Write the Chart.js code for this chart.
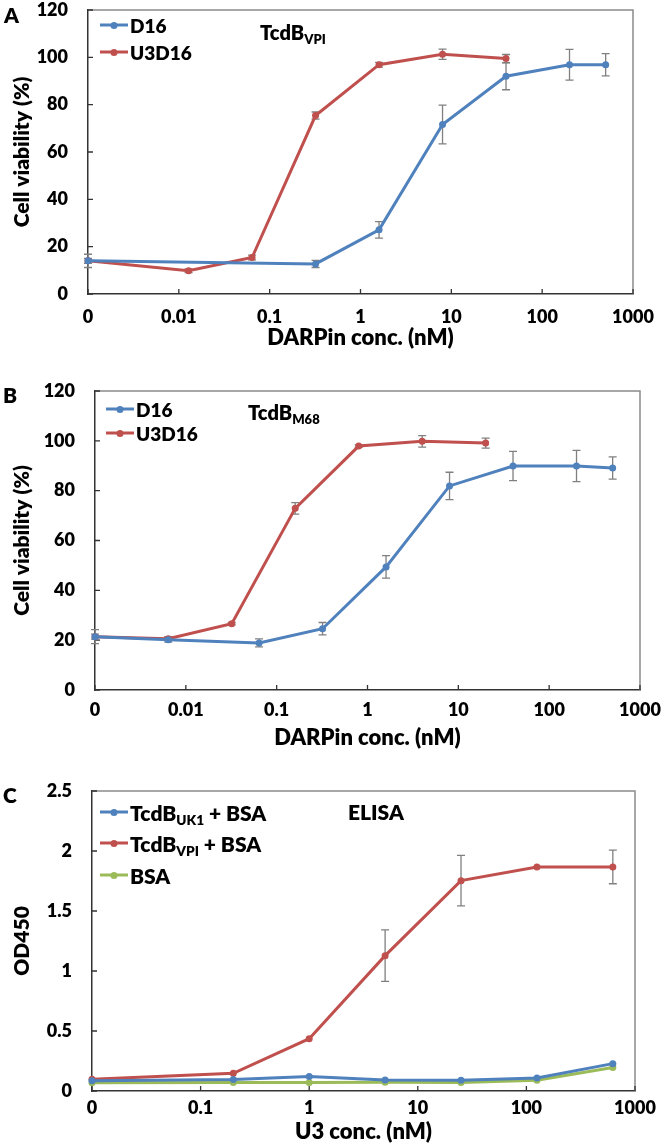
<!DOCTYPE html>
<html><head><meta charset="utf-8">
<script src="https://cdn.jsdelivr.net/npm/chart.js@4.4.0/dist/chart.umd.min.js"></script>
<style>
html,body{margin:0;padding:0;background:#fff;width:666px;height:1144px;overflow:hidden;font-family:Lato,sans-serif;font-weight:800;color:#000}
canvas{position:absolute;left:0}
.lbl{position:absolute;line-height:1;white-space:nowrap}
.leg{position:absolute;display:flex;align-items:center;white-space:nowrap;line-height:1;transform:translateY(-50%)}
.sw{position:relative;width:28px;height:3px;margin-right:2px;flex:none}
.sw i{position:absolute;left:50%;top:50%;width:7px;height:7px;border-radius:50%;transform:translate(-50%,-50%)}
.tx{display:inline-block;line-height:1}
sub{font-size:0.65em;vertical-align:-0.3em;line-height:0}
</style></head><body>
<canvas id="cA" width="666" height="360" style="top:0px"></canvas>
<canvas id="cB" width="666" height="385" style="top:375px"></canvas>
<canvas id="cC" width="666" height="384" style="top:760px"></canvas>

<div class="lbl" style="left:4px;top:4px;font-size:21px">A</div>
<div class="lbl" style="left:3px;top:384px;font-size:21px">B</div>
<div class="lbl" style="left:3px;top:784px;font-size:21px">C</div>

<div class="leg" style="left:100px;top:25px;font-size:19px"><span class="sw" style="background:#4F81BD"><i style="background:#4F81BD"></i></span><span class="tx">D16</span></div>
<div class="leg" style="left:100px;top:52px;font-size:19px"><span class="sw" style="background:#C0504D"><i style="background:#C0504D"></i></span><span class="tx">U3D16</span></div>
<div class="lbl" style="left:260px;top:22px;font-size:20px">TcdB<sub>VPI</sub></div>

<div class="leg" style="left:106px;top:409px;font-size:19px"><span class="sw" style="background:#4F81BD"><i style="background:#4F81BD"></i></span><span class="tx">D16</span></div>
<div class="leg" style="left:106px;top:433px;font-size:19px"><span class="sw" style="background:#C0504D"><i style="background:#C0504D"></i></span><span class="tx">U3D16</span></div>
<div class="lbl" style="left:248px;top:402px;font-size:20px">TcdB<sub>M68</sub></div>

<div class="leg" style="left:100px;top:812px;font-size:21px"><span class="sw" style="background:#4F81BD"><i style="background:#4F81BD"></i></span><span class="tx">TcdB<sub>UK1</sub> + BSA</span></div>
<div class="leg" style="left:100px;top:843px;font-size:21px"><span class="sw" style="background:#C0504D"><i style="background:#C0504D"></i></span><span class="tx">TcdB<sub>VPI</sub> + BSA</span></div>
<div class="leg" style="left:100px;top:875px;font-size:21px"><span class="sw" style="background:#9BBB59"><i style="background:#9BBB59"></i></span><span class="tx">BSA</span></div>
<div class="lbl" style="left:348px;top:801px;font-size:21px">ELISA</div>

<script>
// ---------- DATA ----------
// Panel A (TcdB VPI) — "0" concentration plotted at 0.001
const aD16Conc   = [0.001, 0.32, 1.6, 8, 40, 200, 500];
const aD16Via    = [14.0, 12.7, 27.1, 71.6, 92.0, 96.9, 96.9];
const aD16Err    = [2.8, 1.5, 3.5, 8.2, 5.7, 6.5, 4.7];
const aU3D16Conc = [0.001, 0.0128, 0.064, 0.32, 1.6, 8, 40];
const aU3D16Via  = [14.0, 9.8, 15.4, 75.4, 96.9, 101.3, 99.5];
const aU3D16Err  = [1.0, 0.8, 1.0, 1.5, 1.0, 2.2, 1.7];

// Panel B (TcdB M68)
const bD16Conc   = [0.001, 0.0064, 0.064, 0.32, 1.6, 8, 40, 200, 500];
const bD16Via    = [21.4, 20.2, 18.9, 24.6, 49.4, 81.9, 89.9, 89.9, 89.1];
const bD16Err    = [2.8, 1.0, 1.6, 2.5, 4.5, 5.5, 5.9, 6.3, 4.5];
const bU3D16Conc = [0.001, 0.0064, 0.032, 0.16, 0.8, 4, 20];
const bU3D16Via  = [21.4, 20.6, 26.6, 72.9, 97.9, 99.8, 99.1];
const bU3D16Err  = [1.0, 0.8, 0.5, 2.3, 0.5, 2.3, 2.0];

// Panel C (ELISA) — "0" concentration plotted at 0.01
const cConc      = [0.01, 0.2, 1, 5, 25, 125, 625];
const cUK1       = [0.085, 0.095, 0.12, 0.092, 0.089, 0.108, 0.228];
const cVPI       = [0.097, 0.147, 0.436, 1.128, 1.753, 1.867, 1.867];
const cVPIErr    = [0, 0, 0, 0.215, 0.21, 0, 0.14];
const cBSA       = [0.068, 0.07, 0.07, 0.072, 0.07, 0.089, 0.195];

// Tick values / labels
const abXTicks  = [0.001, 0.01, 0.1, 1, 10, 100, 1000];
const abXLabels = ["0", "0.01", "0.1", "1", "10", "100", "1000"];
const abYTicks  = [0, 20, 40, 60, 80, 100, 120];
const abYLabels = ["0", "20", "40", "60", "80", "100", "120"];
const cXTicks   = [0.01, 0.1, 1, 10, 100, 1000];
const cXLabels  = ["0", "0.1", "1", "10", "100", "1000"];
const cYTicks   = [0, 0.5, 1, 1.5, 2, 2.5];
const cYLabels  = ["0", "0.5", "1", "1.5", "2", "2.5"];

const BLUE = '#4F81BD', RED = '#C0504D', GREEN = '#9BBB59';

function pts(xs, ys) { return xs.map((x, i) => ({x: x, y: ys[i]})); }

const frameTicks = {
  id: 'frameTicks',
  beforeDatasetsDraw(chart) {
    const ctx = chart.ctx, a = chart.chartArea, x = chart.scales.x, y = chart.scales.y;
    ctx.save();
    ctx.strokeStyle = '#8a8a8a'; ctx.lineWidth = 1.5;
    ctx.beginPath(); ctx.moveTo(a.left, a.top); ctx.lineTo(a.right, a.top); ctx.lineTo(a.right, a.bottom); ctx.stroke();
    ctx.strokeStyle = '#333'; ctx.lineWidth = 1.3;
    ctx.beginPath();
    x.ticks.forEach(t => { const px = x.getPixelForValue(t.value); ctx.moveTo(px, a.bottom); ctx.lineTo(px, a.bottom - 5); });
    y.ticks.forEach(t => { const py = y.getPixelForValue(t.value); ctx.moveTo(a.left, py); ctx.lineTo(a.left + 5, py); });
    ctx.stroke();
    ctx.strokeStyle = '#808080'; ctx.lineWidth = 1.3;
    chart.data.datasets.forEach(ds => {
      if (!ds.err) return;
      ds.data.forEach((p, i) => {
        const e = ds.err[i]; if (!e) return;
        const px = x.getPixelForValue(p.x);
        const y1 = y.getPixelForValue(p.y + e), y2 = y.getPixelForValue(p.y - e);
        ctx.beginPath();
        ctx.moveTo(px, y1); ctx.lineTo(px, y2);
        ctx.moveTo(px - 4, y1); ctx.lineTo(px + 4, y1);
        ctx.moveTo(px - 4, y2); ctx.lineTo(px + 4, y2);
        ctx.stroke();
      });
    });
    ctx.restore();
  }
};

function makeChart(id, o) {
  const font = (s, lh) => ({family: 'Lato', weight: '800', size: s, lineHeight: lh || 1.2});
  return new Chart(document.getElementById(id), {
    type: 'line',
    data: {
      datasets: o.datasets.map(d => ({
        label: d.label, data: pts(d.x, d.y), err: d.err,
        borderColor: d.color, backgroundColor: d.color, borderWidth: 3,
        pointRadius: 3.5, pointBorderWidth: 0, pointHoverRadius: 3.5,
        tension: 0, clip: false
      }))
    },
    options: {
      responsive: false, animation: false, events: [],
      layout: {padding: {left: 0, top: o.top, right: o.right, bottom: 0}},
      plugins: {legend: {display: false}, tooltip: {enabled: false}},
      scales: {
        x: {
          type: 'logarithmic', min: o.xt[0], max: 1000,
          afterFit(s) { s.height = o.xh; s.paddingLeft = 0; s.paddingRight = 0; },
          afterBuildTicks(s) { s.ticks = o.xt.map(v => ({value: v})); },
          grid: {display: false, drawTicks: false},
          border: {display: true, color: '#333', width: 1.5},
          ticks: {autoSkip: false, maxRotation: 0, padding: o.xpad, color: '#000', font: font(18),
                  callback: (v, i) => o.xl[i]},
          title: {display: true, text: o.xtitle, color: '#000', font: font(22, 1), padding: {top: 0, bottom: o.xtp}}
        },
        y: {
          type: 'linear', min: 0, max: o.yt[o.yt.length - 1],
          afterFit(s) { s.width = o.left; s.paddingTop = 0; s.paddingBottom = 0; },
          afterBuildTicks(s) { s.ticks = o.yt.map(v => ({value: v})); },
          grid: {display: false, drawTicks: false},
          border: {display: true, color: '#333', width: 1.5},
          ticks: {padding: 20, color: '#000', font: font(18), callback: (v, i) => o.yl[i]},
          title: {display: true, text: o.ytitle, color: '#000', font: font(21, 1), padding: {top: 12, bottom: 0}}
        }
      }
    },
    plugins: [frameTicks]
  });
}

makeChart('cA', {
  top: 10, right: 33, left: 88, xh: 66, xpad: 12, xtp: 11,
  xt: abXTicks, xl: abXLabels, yt: abYTicks, yl: abYLabels,
  xtitle: 'DARPin conc. (nM)', ytitle: 'Cell viability (%)',
  datasets: [
    {label: 'D16', x: aD16Conc, y: aD16Via, err: aD16Err, color: BLUE},
    {label: 'U3D16', x: aU3D16Conc, y: aU3D16Via, err: aU3D16Err, color: RED}
  ]
});
makeChart('cB', {
  top: 16, right: 26, left: 95, xh: 70, xpad: 9, xtp: 11,
  xt: abXTicks, xl: abXLabels, yt: abYTicks, yl: abYLabels,
  xtitle: 'DARPin conc. (nM)', ytitle: 'Cell viability (%)',
  datasets: [
    {label: 'D16', x: bD16Conc, y: bD16Via, err: bD16Err, color: BLUE},
    {label: 'U3D16', x: bU3D16Conc, y: bU3D16Via, err: bU3D16Err, color: RED}
  ]
});
makeChart('cC', {
  top: 31, right: 31, left: 92, xh: 53, xpad: 6, xtp: 1,
  xt: cXTicks, xl: cXLabels, yt: cYTicks, yl: cYLabels,
  xtitle: 'U3 conc. (nM)', ytitle: 'OD450',
  datasets: [
    {label: 'TcdB UK1 + BSA', x: cConc, y: cUK1, err: null, color: BLUE},
    {label: 'TcdB VPI + BSA', x: cConc, y: cVPI, err: cVPIErr, color: RED},
    {label: 'BSA', x: cConc, y: cBSA, err: null, color: GREEN}
  ]
});
</script>
</body></html>
